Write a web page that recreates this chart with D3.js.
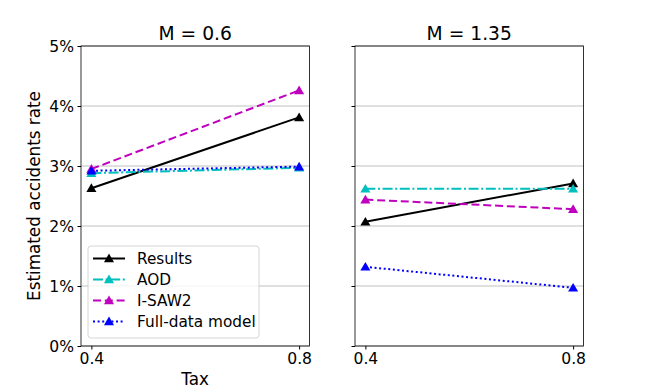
<!DOCTYPE html>
<html>
<head>
<meta charset="utf-8">
<script src="https://cdn.jsdelivr.net/npm/d3@7"></script>
<style>
  body { margin: 0; background: #fff; }
  svg text { font-family: "DejaVu Sans", sans-serif; fill: #000; }
</style>
</head>
<body>
<div id="chart"></div>
<script>
"use strict";
// data
const taxValues = [0.4, 0.8];
const panelTitles = ["M = 0.6", "M = 1.35"];
const seriesNames = ["Results", "AOD", "I-SAW2", "Full-data model"];
const resultsM06 = [2.63, 3.81];
const aodM06 = [2.88, 2.97];
const isawM06 = [2.95, 4.26];
const fullM06 = [2.92, 2.99];
const resultsM135 = [2.07, 2.71];
const aodM135 = [2.62, 2.62];
const isawM135 = [2.44, 2.28];
const fullM135 = [1.32, 0.97];
const yTicks = [0, 1, 2, 3, 4, 5];

const styles = [
    {color: "#000000", dash: null},
    {color: "#00bfbf", dash: "10,2.6,2,2.6"},
    {color: "#bf00bf", dash: "8,3.8"},
    {color: "#0000ff", dash: "2,2.6"}
];

const panels = [
    {title: panelTitles[0], series: [resultsM06, aodM06, isawM06, fullM06], left: 81},
    {title: panelTitles[1], series: [resultsM135, aodM135, isawM135, fullM135], left: 355}
];

const width = 648, height = 389;
const plotW = 228.5, plotTop = 46, plotBottom = 346;

const svg = d3.select("#chart").append("svg")
    .attr("width", width)
    .attr("height", height);

const yScale = d3.scaleLinear().domain([0, 5]).range([plotBottom, plotTop]);
const tri = d3.symbol().type(d3.symbolTriangle).size(44);

panels.forEach(function(p, pi) {
    const xScale = d3.scaleLinear()
        .domain([0.38, 0.82])
        .range([p.left, p.left + plotW]);

    const g = svg.append("g");

    // grid
    g.selectAll(".grid")
        .data(yTicks)
        .enter()
        .append("line")
            .attr("x1", p.left)
            .attr("x2", p.left + plotW)
            .attr("y1", d => yScale(d))
            .attr("y2", d => yScale(d))
            .attr("stroke", "#b0b0b0")
            .attr("stroke-width", 0.8);

    // y axis
    const yAxis = d3.axisLeft(yScale)
        .tickValues(yTicks)
        .tickSize(3.5)
        .tickPadding(3.5)
        .tickFormat(d => pi === 0 ? d + "%" : "");
    const ya = g.append("g")
        .attr("transform", "translate(" + p.left + ",0)")
        .call(yAxis);
    ya.select(".domain").remove();
    ya.selectAll("text").style("font-size", "15.6px").style("font-family", "DejaVu Sans");

    // x axis
    const xAxis = d3.axisBottom(xScale)
        .tickValues(taxValues)
        .tickSize(3.5)
        .tickPadding(3.5)
        .tickFormat(d3.format(".1f"));
    const xa = g.append("g")
        .attr("transform", "translate(0," + plotBottom + ")")
        .call(xAxis);
    xa.select(".domain").remove();
    xa.selectAll("text").style("font-size", "15.6px").style("font-family", "DejaVu Sans");

    // lines
    const line = d3.line()
        .x((d, i) => xScale(taxValues[i]))
        .y(d => yScale(d));

    p.series.forEach(function(vals, si) {
        const st = styles[si];
        g.append("path")
            .datum(vals)
            .attr("d", line)
            .attr("fill", "none")
            .attr("stroke", st.color)
            .attr("stroke-width", 2)
            .attr("stroke-dasharray", st.dash);
        g.selectAll(".m" + si)
            .data(vals)
            .enter()
            .append("path")
                .attr("d", tri)
                .attr("transform", (d, i) => "translate(" + xScale(taxValues[i]) + "," + (yScale(d) + 0.9) + ")")
                .attr("fill", st.color);
    });

    // spines
    g.append("rect")
        .attr("x", p.left)
        .attr("y", plotTop)
        .attr("width", plotW)
        .attr("height", plotBottom - plotTop)
        .attr("fill", "none")
        .attr("stroke", "#000")
        .attr("stroke-width", 0.8);

    // title
    g.append("text")
        .attr("x", p.left + plotW / 2)
        .attr("y", 40)
        .attr("text-anchor", "middle")
        .style("font-size", "18.7px")
        .text(p.title);

    if (pi === 0) {
        // legend
        const lg = g.append("g").attr("transform", "translate(88,246)");
        lg.append("rect")
            .attr("width", 171)
            .attr("height", 92)
            .attr("rx", 3)
            .attr("fill", "rgba(255,255,255,0.8)")
            .attr("stroke", "#cccccc")
            .attr("stroke-width", 0.8);
        seriesNames.forEach(function(name, si) {
            const st = styles[si];
            const yy = 12.5 + si * 21;
            lg.append("line")
                .attr("x1", 5).attr("x2", 37)
                .attr("y1", yy).attr("y2", yy)
                .attr("stroke", st.color)
                .attr("stroke-width", 2)
                .attr("stroke-dasharray", st.dash);
            lg.append("path")
                .attr("d", tri)
                .attr("transform", "translate(21," + (yy + 0.9) + ")")
                .attr("fill", st.color);
            lg.append("text")
                .attr("x", 49)
                .attr("y", yy + 5.3)
                .style("font-size", "15.3px")
                .text(name);
        });
    }
});

// axis labels
svg.append("text")
    .attr("x", 195)
    .attr("y", 385)
    .attr("text-anchor", "middle")
    .style("font-size", "16.8px")
    .text("Tax");

svg.append("text")
    .attr("transform", "translate(40," + ((plotTop + plotBottom) / 2) + ") rotate(-90)")
    .attr("text-anchor", "middle")
    .style("font-size", "16.8px")
    .text("Estimated accidents rate");
</script>
</body>
</html>
